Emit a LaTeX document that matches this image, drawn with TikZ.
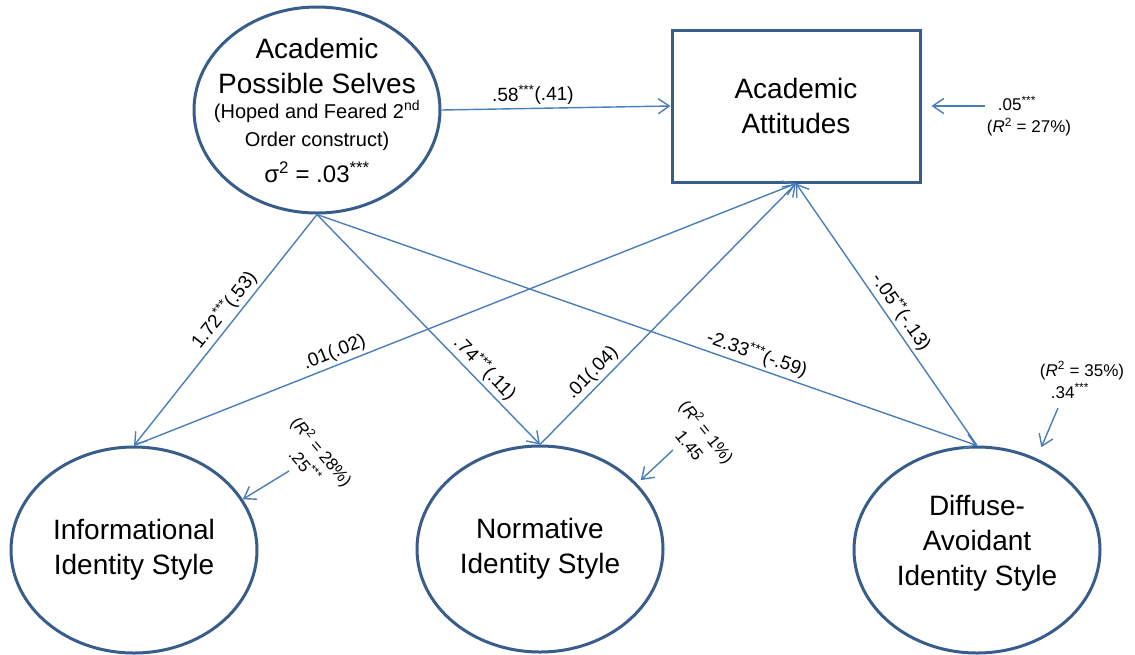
\documentclass[tikz,border=0pt]{standalone}
\usepackage{fontspec}
\setmainfont{Liberation Sans}
\usetikzlibrary{shapes.geometric,arrows.meta}
\definecolor{boxblue}{RGB}{56,93,138}
\definecolor{pathblue}{RGB}{74,126,187}
\newcommand{\smalltxt}{\fontsize{20}{28}\selectfont}
\newcommand{\midtxt}{\fontsize{24}{30}\selectfont}
\begin{document}
\begin{tikzpicture}[x=1pt,y=-1pt,
  latent/.style={ellipse, draw=boxblue, line width=3pt, minimum width=246pt,
    minimum height=206pt, inner sep=-30pt, align=center,
    font=\fontsize{28}{35}\selectfont},
  observed/.style={rectangle, draw=boxblue, line width=3pt, minimum width=248pt,
    minimum height=152pt, inner sep=0pt, align=center,
    font=\fontsize{28}{35}\selectfont},
  effect/.style={draw=pathblue, line width=1.4pt,
    -{Straight Barb[length=11pt,width=15pt]}},
  coef/.style={font=\fontsize{19}{22}\selectfont, sloped, inner sep=3pt},
  resid/.style={font=\fontsize{17}{22}\selectfont, align=center, inner sep=0pt},
]
\useasboundingbox (0,0) rectangle (1135,654);

% constructs
\node[latent] (APS) at (317,110) {Academic\\Possible Selves\\[-10pt]
  {\smalltxt (Hoped and Feared 2\textsuperscript{nd}}\\[-7pt]
  {\smalltxt Order construct)}\\[1pt]
  {\midtxt σ\textsuperscript{2} = .03\textsuperscript{***}}};
\node[observed] (AA) at (796,106) {Academic\\Attitudes};
\node[latent] (Info) at (134,550) {Informational\\Identity Style};
\node[latent] (Norm) at (540,549) {Normative\\Identity Style};
\node[latent, text depth=20pt] (Diff) at (977,550) {Diffuse-\\Avoidant\\Identity Style};

% structural paths
\draw[effect] (APS.east) -- node[coef, above, pos=0.40] {.58\textsuperscript{***}(.41)} (AA.west);
\draw[effect] (APS.south) -- node[coef, above, pos=0.45] {1.72\textsuperscript{***}(.53)} (Info.north);
\draw[effect] (APS.south) -- node[coef, above, pos=0.71] {.74\textsuperscript{***}(.11)} (Norm.north);
\draw[effect] (APS.south) -- node[coef, above, pos=0.66] {-2.33\textsuperscript{***}(-.59)} (Diff.north);
\draw[effect] (Info.north) -- node[coef, above, pos=0.31] {.01(.02)} (AA.south);
\draw[effect] (Norm.north) -- node[coef, above, pos=0.24] {.01(.04)} (AA.south);
\draw[effect] (Diff.north) -- node[coef, above, pos=0.48] {-.05\textsuperscript{**}(-.13)} (AA.south);

% residual terms
\coordinate (eAA) at (985,106);
\coordinate (eInfo) at (289,471);
\coordinate (eNorm) at (673,450);
\coordinate (eDiff) at (1058,408);
\draw[effect, shorten >=10pt] (eAA) -- (AA.east);
\draw[effect] (eInfo) -- (Info.25);
\draw[effect, shorten >=5pt] (eNorm) -- (Norm.34);
\draw[effect, shorten >=12pt] (eDiff) -- (Diff.57);

\node[resid, align=left] (tAA) at (1029,116)
  {\hspace*{11pt}.05\textsuperscript{***}\\(\textit{R}\textsuperscript{2} = 27\%)};
\node[resid, rotate=-50] (tInfo) at (314,458)
  {(\textit{R}\textsuperscript{2} = 28\%)\\.25\textsuperscript{***}};
\node[resid, rotate=-51] (tNorm) at (699,438)
  {(\textit{R}\textsuperscript{2} = 1\%)\\1.45};
\node[resid, align=left] (tDiff) at (1082,380)
  {(\textit{R}\textsuperscript{2} = 35\%)\\\hspace*{11pt}.34\textsuperscript{***}};
\end{tikzpicture}
\end{document}
